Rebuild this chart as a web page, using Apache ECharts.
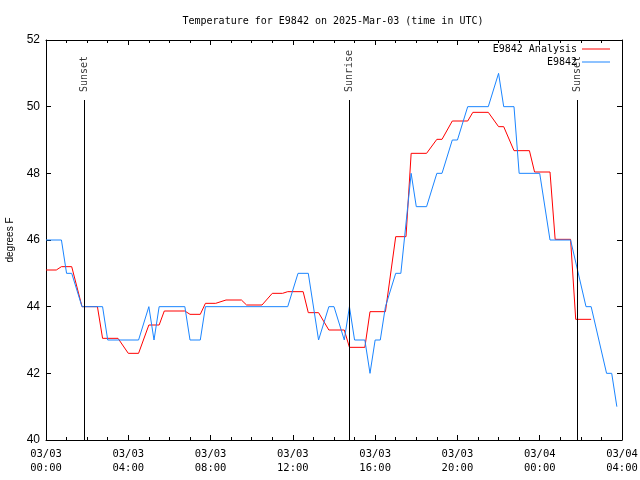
<!DOCTYPE html>
<html><head><meta charset="utf-8">
<script src="https://cdn.jsdelivr.net/npm/echarts@6/dist/echarts.min.js"></script>
<style>html,body{margin:0;padding:0;background:#fff}#c{width:640px;height:480px}</style>
</head><body><div id="c"></div>
<script>
const titleText = 'Temperature for E9842 on 2025-Mar-03 (time in UTC)';
const yAxisName = 'degrees F';
const xTickLabels = ['03/03\n00:00','03/03\n04:00','03/03\n08:00','03/03\n12:00','03/03\n16:00','03/03\n20:00','03/04\n00:00','03/04\n04:00'];
const seriesNames = ['E9842 Analysis', 'E9842'];

// Analysis (red), times as hours:minutes since 03/03 00:00 UTC
const anaTimes = ['00:00','00:30','00:45','01:15','01:45','02:30','02:45','03:30','04:00','04:30','05:00','05:30','05:45','06:45','07:00','07:30','07:45','08:15','08:45','09:30','09:45','10:30','11:00','11:30','11:45','12:30','12:45','13:15','13:45','14:30','14:45','15:30','15:45','16:30','17:00','17:30','17:45','18:30','19:00','19:15','19:45','20:30','20:45','21:30','22:00','22:15','22:45','23:30','23:45','24:30','24:45','25:30','25:45','26:30'];
const anaValues = [45.1,45.1,45.2,45.2,44.0,44.0,43.05,43.05,42.6,42.6,43.45,43.45,43.87,43.87,43.77,43.77,44.1,44.1,44.2,44.2,44.05,44.05,44.4,44.4,44.45,44.45,43.82,43.82,43.3,43.3,42.78,42.78,43.85,43.85,46.1,46.1,48.6,48.6,49.02,49.02,49.57,49.57,49.83,49.83,49.4,49.4,48.68,48.68,48.04,48.04,46.02,46.02,43.62,43.62];

// Observations (blue)
const obsTimes = ['00:00','00:45','01:00','01:15','01:45','02:45','03:00','04:30','05:00','05:15','05:30','06:45','07:00','07:30','07:45','11:45','12:15','12:45','13:15','13:45','14:00','14:30','14:45','15:00','15:30','15:45','16:00','16:15','16:30','17:00','17:15','17:45','18:00','18:30','19:00','19:15','19:45','20:00','20:30','21:30','22:00','22:15','22:45','23:00','24:00','24:30','25:30','26:15','26:30','27:15','27:30','27:45'];
const obsValues = [46,46,45,45,44,44,43,43,44,43,44,44,43,43,44,44,45,45,43,44,44,43,44,43,43,42,43,43,44,45,45,48,47,47,48,48,49,49,50,50,51,50,50,48,48,46,46,44,44,42,42,41];

const eventNames = ['Sunset','Sunrise','Sunset'];
const eventTimes = ['01:51','14:44','25:49'];

function toHours(s){ const p = s.split(':'); return +p[0] + (+p[1])/60; }
const zip = (t, v) => t.map((s, i) => [toHours(s), v[i]]);

const mono = 'DejaVu Sans Mono';
const chart = echarts.init(document.getElementById('c'), null, {renderer:'canvas'});

const axisCommon = {
  axisLine: {show:true, onZero:false, lineStyle:{color:'#000', width:1}},
  axisTick: {show:true, inside:true, length:5, lineStyle:{color:'#000'}},
  splitLine: {show:false}
};

chart.setOption({
  animation: false,
  backgroundColor: '#fff',
  title: {
    text: titleText, left: 328, top: 11, textAlign: 'center',
    textStyle: {fontFamily: mono, fontSize: 10, fontWeight: 'normal', color: '#000'}
  },
  legend: {
    data: seriesNames.map(n => ({name: n, icon: 'rect'})), orient: 'vertical', align: 'right',
    right: 30, top: 43, padding: 0, itemGap: 1,
    itemWidth: 28, itemHeight: 1,
    textStyle: {fontFamily: mono, fontSize: 10, color: '#000', lineHeight: 12}
  },
  grid: {left: 46, right: 18, top: 40, bottom: 40, containLabel: false, outerBoundsMode: 'none'},
  xAxis: [
    Object.assign({}, axisCommon, {
      type: 'value', min: 0, max: 28, interval: 4, position: 'bottom',
      minorTick: {show: true, splitNumber: 4, length: 3, lineStyle:{color:'#000'}},
      axisLabel: {margin: 7, fontFamily: mono, fontSize: 10.5, color: '#000', lineHeight: 14,
        formatter: v => xTickLabels[Math.round(v / 4)]}
    }),
    Object.assign({}, axisCommon, {
      type: 'value', min: 0, max: 28, interval: 4, position: 'top',
      minorTick: {show: true, splitNumber: 4, length: 3, lineStyle:{color:'#000'}},
      axisLabel: {show: false}
    })
  ],
  yAxis: [
    Object.assign({}, axisCommon, {
      type: 'value', min: 40, max: 52, interval: 2, position: 'left',
      name: yAxisName, nameLocation: 'middle', nameGap: 31, nameRotate: 90,
      nameTextStyle: {fontFamily: 'Liberation Sans', fontSize: 10, color: '#000'},
      axisLabel: {margin: 6, fontFamily: 'Liberation Sans', fontSize: 12, color: '#000'}
    }),
    Object.assign({}, axisCommon, {
      type: 'value', min: 40, max: 52, interval: 2, position: 'right',
      axisLabel: {show: false}
    })
  ],
  series: [
    {
      name: seriesNames[0], type: 'line', data: zip(anaTimes, anaValues),
      symbol: 'none', color: '#ff0000', lineStyle: {width: 1, color: '#ff0000'}, z: 3
    },
    {
      name: seriesNames[1], type: 'line', data: zip(obsTimes, obsValues),
      symbol: 'none', color: '#1a85ff', lineStyle: {width: 1, color: '#1a85ff'}, z: 4
    },
    {
      name: 'events', type: 'scatter', symbolSize: 0, silent: true, z: 2,
      data: eventTimes.map((t, i) => ({value: [toHours(t), 50.44], name: eventNames[i]})),
      label: {show: true, position: 'inside', rotate: 90, align: 'left', verticalAlign: 'middle',
        formatter: p => p.name, fontFamily: mono, fontSize: 10, color: '#000'},
      markLine: {
        silent: true, symbol: 'none', label: {show: false},
        lineStyle: {color: '#000', width: 1, type: 'solid'},
        data: eventTimes.map(t => [{coord: [toHours(t), 40]}, {coord: [toHours(t), 50.2]}])
      }
    }
  ]
});
</script>
</body></html>
